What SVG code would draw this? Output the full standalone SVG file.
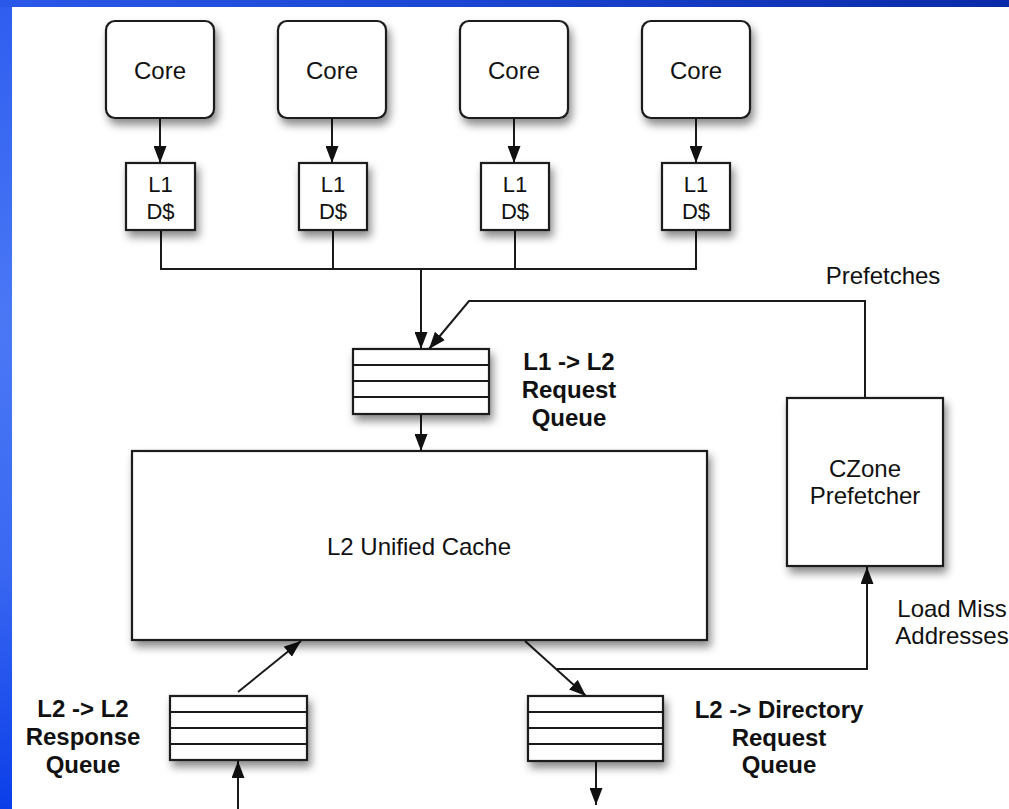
<svg xmlns="http://www.w3.org/2000/svg" width="1009" height="809" viewBox="0 0 1009 809">
<defs>
<linearGradient id="bgL" x1="0" y1="0" x2="0" y2="1">
<stop offset="0" stop-color="#2f5ef0"/>
<stop offset="0.4" stop-color="#4a78f5"/>
<stop offset="0.7" stop-color="#3a68f2"/>
<stop offset="1" stop-color="#0b3ee8"/>
</linearGradient>
<linearGradient id="bgT" x1="0" y1="0" x2="1" y2="0">
<stop offset="0" stop-color="#2a58e8"/>
<stop offset="0.5" stop-color="#1a44d0"/>
<stop offset="1" stop-color="#0a2aa8"/>
</linearGradient>
<filter id="sh" x="-20%" y="-20%" width="150%" height="160%">
<feDropShadow dx="3" dy="6" stdDeviation="4" flood-color="#000" flood-opacity="0.45"/>
</filter>
<marker id="ah" viewBox="0 0 17 13" refX="17" refY="6.5" markerWidth="17" markerHeight="13" markerUnits="userSpaceOnUse" orient="auto">
<path d="M0,0 L17,6.5 L0,13 z" fill="#111"/>
</marker>
<style>
.box{fill:#fff;stroke:#1a1a1a;stroke-width:2.2}
.ln{fill:none;stroke:#1a1a1a;stroke-width:2}
.q{fill:none;stroke:#1a1a1a;stroke-width:2}
.t{font-family:"Liberation Sans",Arial,sans-serif;font-size:24px;fill:#111;text-anchor:middle}
.s{font-size:22px}
.b{font-family:"Liberation Sans",Arial,sans-serif;font-size:24px;font-weight:bold;fill:#111;text-anchor:middle}
</style>
</defs>
<rect x="0" y="0" width="1009" height="809" fill="url(#bgL)"/>
<rect x="0" y="0" width="1009" height="7" fill="url(#bgT)"/>
<rect x="12" y="7" width="997" height="802" fill="#fff"/>

<g id="connectors">
<line class="ln" x1="160" y1="118" x2="160" y2="163" marker-end="url(#ah)"/>
<line class="ln" x1="332" y1="118" x2="332" y2="163" marker-end="url(#ah)"/>
<line class="ln" x1="514" y1="118" x2="514" y2="163" marker-end="url(#ah)"/>
<line class="ln" x1="696" y1="118" x2="696" y2="163" marker-end="url(#ah)"/>
<polyline class="ln" points="161,230 161,269 696,269 696,230"/>
<line class="ln" x1="333" y1="230" x2="333" y2="269"/>
<line class="ln" x1="515" y1="230" x2="515" y2="269"/>
<line class="ln" x1="421" y1="269" x2="421" y2="349" marker-end="url(#ah)"/>
<polyline class="ln" points="865,398 865,301 469,301 429,349" marker-end="url(#ah)"/>
<line class="ln" x1="421" y1="414" x2="421" y2="451" marker-end="url(#ah)"/>
<line class="ln" x1="525" y1="641" x2="586" y2="696" marker-end="url(#ah)"/>
<polyline class="ln" points="557,669 867,669 867,567" marker-end="url(#ah)"/>
<line class="ln" x1="596" y1="761" x2="596" y2="805" marker-end="url(#ah)"/>
<line class="ln" x1="238" y1="809" x2="238" y2="761" marker-end="url(#ah)"/>
<line class="ln" x1="238" y1="692" x2="301" y2="641" marker-end="url(#ah)"/>
</g>

<g id="core1"><rect class="box" x="106" y="21" width="108" height="97" rx="9" filter="url(#sh)"/><text class="t" x="160" y="79">Core</text></g>
<g id="core2"><rect class="box" x="278" y="21" width="108" height="97" rx="9" filter="url(#sh)"/><text class="t" x="332" y="79">Core</text></g>
<g id="core3"><rect class="box" x="460" y="21" width="108" height="97" rx="9" filter="url(#sh)"/><text class="t" x="514" y="79">Core</text></g>
<g id="core4"><rect class="box" x="642" y="21" width="108" height="97" rx="9" filter="url(#sh)"/><text class="t" x="696" y="79">Core</text></g>

<g id="l1a"><rect class="box" x="126" y="163" width="69" height="67" filter="url(#sh)"/><text class="t s" x="160.5" y="192">L1</text><text class="t s" x="160.5" y="219">D$</text></g>
<g id="l1b"><rect class="box" x="299" y="163" width="68" height="67" filter="url(#sh)"/><text class="t s" x="333" y="192">L1</text><text class="t s" x="333" y="219">D$</text></g>
<g id="l1c"><rect class="box" x="481" y="163" width="68" height="67" filter="url(#sh)"/><text class="t s" x="515" y="192">L1</text><text class="t s" x="515" y="219">D$</text></g>
<g id="l1d"><rect class="box" x="662" y="163" width="68" height="67" filter="url(#sh)"/><text class="t s" x="696" y="192">L1</text><text class="t s" x="696" y="219">D$</text></g>

<g id="reqQueue">
<rect class="box" x="353" y="349" width="136" height="65" filter="url(#sh)"/>
<path class="q" d="M353,365H489M353,381H489M353,397H489"/>
<text class="b" x="569" y="370">L1 -&gt; L2</text>
<text class="b" x="569" y="398">Request</text>
<text class="b" x="569" y="426">Queue</text>
</g>

<g id="l2cache"><rect class="box" x="132" y="451" width="575" height="189" filter="url(#sh)"/><text class="t" x="419" y="555">L2 Unified Cache</text></g>

<g id="czone"><rect class="box" x="787" y="398" width="156" height="168" filter="url(#sh)"/><text class="t" x="865" y="477">CZone</text><text class="t" x="865" y="504">Prefetcher</text></g>

<g id="respQueue">
<rect class="box" x="170" y="696" width="137" height="64" filter="url(#sh)"/>
<path class="q" d="M170,712H307M170,728H307M170,744H307"/>
<text class="b" x="83" y="717">L2 -&gt; L2</text>
<text class="b" x="83" y="745">Response</text>
<text class="b" x="83" y="773">Queue</text>
</g>

<g id="dirQueue">
<rect class="box" x="528" y="696" width="135" height="65" filter="url(#sh)"/>
<path class="q" d="M528,712H663M528,728H663M528,744H663"/>
<text class="b" x="779" y="718">L2 -&gt; Directory</text>
<text class="b" x="779" y="746">Request</text>
<text class="b" x="779" y="773">Queue</text>
</g>

<g id="labels">
<text class="t" x="883" y="284">Prefetches</text>
<text class="t" x="952" y="617">Load Miss</text>
<text class="t" x="952" y="644">Addresses</text>
</g>
</svg>
